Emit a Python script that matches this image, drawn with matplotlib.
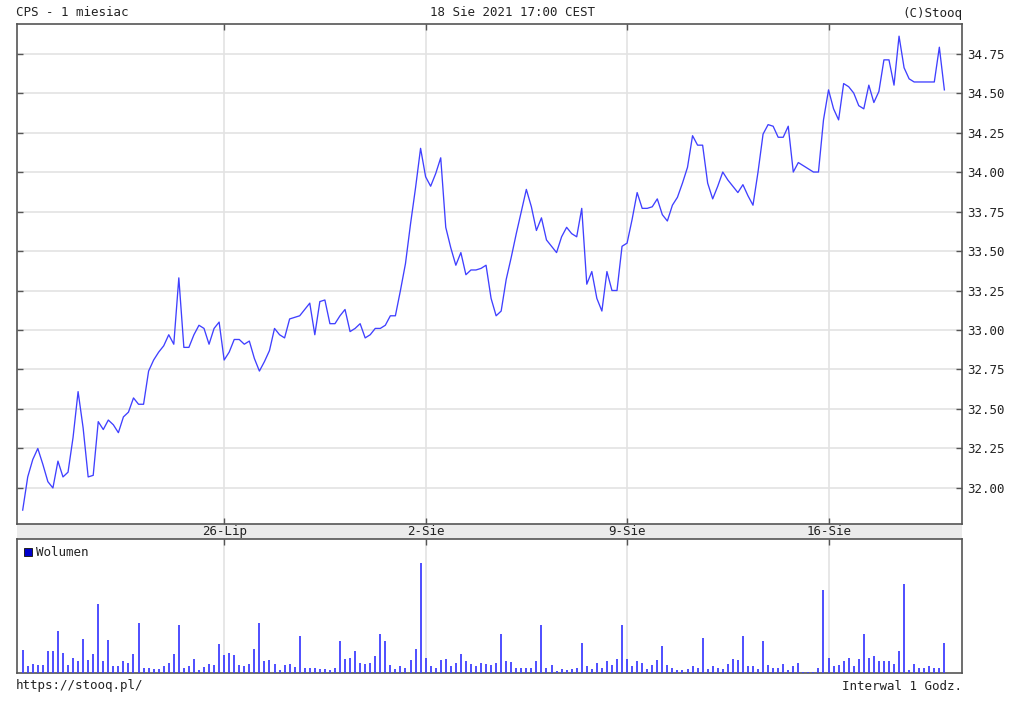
import matplotlib
matplotlib.use("Agg")
import matplotlib.pyplot as plt
from matplotlib.patches import Rectangle
from matplotlib.transforms import blended_transform_factory

# ---------------- data ----------------
title_left = "CPS - 1 miesiac"
title_center = "18 Sie 2021 17:00 CEST"
title_right = "(C)Stooq"
footer_left = "https://stooq.pl/"
footer_right = "Interwal 1 Godz."
legend_label = "Wolumen"

trading_days = ["19-Lip", "20-Lip", "21-Lip", "22-Lip", "23-Lip",
                "26-Lip", "27-Lip", "28-Lip", "29-Lip", "30-Lip",
                "2-Sie", "3-Sie", "4-Sie", "5-Sie", "6-Sie",
                "9-Sie", "10-Sie", "11-Sie", "12-Sie", "13-Sie",
                "16-Sie", "17-Sie", "18-Sie"]
bars_per_day = 8
tick_days = ["26-Lip", "2-Sie", "9-Sie", "16-Sie"]
price_ticks = [32.00, 32.25, 32.50, 32.75, 33.00, 33.25, 33.50, 33.75,
               34.00, 34.25, 34.50, 34.75]

price = [31.86, 32.07, 32.18, 32.25, 32.15, 32.04, 32.00, 32.17, 32.07, 32.10,
         32.32, 32.61, 32.38, 32.07, 32.08, 32.42, 32.37, 32.43, 32.40, 32.35,
         32.45, 32.48, 32.57, 32.53, 32.53, 32.74, 32.81, 32.86, 32.90, 32.97,
         32.91, 33.33, 32.89, 32.89, 32.97, 33.03, 33.01, 32.91, 33.01, 33.05,
         32.81, 32.86, 32.94, 32.94, 32.91, 32.93, 32.82, 32.74, 32.80, 32.87,
         33.01, 32.97, 32.95, 33.07, 33.08, 33.09, 33.13, 33.17, 32.97, 33.18,
         33.19, 33.04, 33.04, 33.09, 33.13, 32.99, 33.01, 33.04, 32.95, 32.97,
         33.01, 33.01, 33.03, 33.09, 33.09, 33.25, 33.42, 33.67, 33.90, 34.15,
         33.97, 33.91, 33.99, 34.09, 33.65, 33.52, 33.41, 33.49, 33.35, 33.38,
         33.38, 33.39, 33.41, 33.20, 33.09, 33.12, 33.32, 33.46, 33.61, 33.75,
         33.89, 33.78, 33.63, 33.71, 33.57, 33.53, 33.49, 33.59, 33.65, 33.61,
         33.59, 33.77, 33.29, 33.37, 33.20, 33.12, 33.37, 33.25, 33.25, 33.53,
         33.55, 33.70, 33.87, 33.77, 33.77, 33.78, 33.83, 33.73, 33.69, 33.79,
         33.84, 33.93, 34.03, 34.23, 34.17, 34.17, 33.93, 33.83, 33.91, 34.00,
         33.95, 33.91, 33.87, 33.92, 33.85, 33.79, 34.00, 34.24, 34.30, 34.29,
         34.22, 34.22, 34.29, 34.00, 34.06, 34.04, 34.02, 34.00, 34.00, 34.33,
         34.52, 34.40, 34.33, 34.56, 34.54, 34.50, 34.42, 34.40, 34.55, 34.44,
         34.51, 34.71, 34.71, 34.55, 34.86, 34.66, 34.59, 34.57, 34.57, 34.57,
         34.57, 34.57, 34.79, 34.52]

volume = [68, 20, 28, 25, 25, 65, 65, 125, 61, 25,
          46, 35, 103, 38, 58, 208, 35, 100, 20, 20,
          35, 31, 58, 151, 16, 16, 13, 13, 20, 31,
          58, 143, 16, 20, 43, 10, 18, 28, 25, 88,
          53, 61, 53, 23, 20, 28, 73, 151, 35, 38,
          28, 10, 25, 28, 18, 110, 16, 16, 16, 13,
          13, 10, 16, 95, 43, 46, 65, 31, 28, 31,
          50, 118, 95, 25, 13, 20, 16, 38, 73, 331,
          46, 20, 16, 38, 43, 20, 31, 58, 35, 28,
          20, 31, 28, 25, 31, 118, 35, 33, 16, 16,
          16, 16, 35, 143, 16, 23, 6, 13, 10, 13,
          16, 91, 20, 13, 31, 16, 35, 25, 43, 143,
          43, 20, 35, 31, 13, 25, 38, 80, 25, 16,
          10, 10, 13, 20, 16, 106, 13, 20, 16, 13,
          28, 43, 38, 110, 20, 20, 13, 95, 25, 16,
          16, 28, 8, 20, 31, 4, 4, 4, 16, 248,
          46, 20, 25, 35, 46, 20, 43, 118, 46, 50,
          35, 35, 35, 28, 65, 268, 10, 28, 16, 16,
          20, 16, 16, 91]

# ---------------- layout helpers ----------------
W, H = 1024, 707
def fx(px):
    return px / W
def fy(py):
    return 1 - py / H

plt.rcParams['font.family'] = ['DejaVu Sans Mono']
text_color = "#222222"
grid_color = "#e3e3e3"
spine_color = "#555555"
line_color = "#4040ff"
fs = 9

fig = plt.figure(figsize=(W / 100, H / 100), dpi=100)
fig.patch.set_facecolor("white")

L, R = 17, 962
P_TOP, P_BOT = 24, 524
V_TOP, V_BOT = 539, 673

# gray date band (drawn beneath the axes)
fig.patches.append(Rectangle((fx(L), fy(V_TOP)), fx(R) - fx(L), fy(P_BOT) - fy(V_TOP),
                             transform=fig.transFigure, facecolor="#ebebeb",
                             edgecolor="none", zorder=-1))

ax = fig.add_axes([fx(L), fy(P_BOT), fx(R) - fx(L), fy(P_TOP) - fy(P_BOT)])
axv = fig.add_axes([fx(L), fy(V_BOT), fx(R) - fx(L), fy(V_TOP) - fy(V_BOT)])

x = list(range(len(price)))
tick_pos = [trading_days.index(d) * bars_per_day for d in tick_days]
xlim = (-1.13, 186.5)

# ---- price panel ----
ax.plot(x, price, color=line_color, lw=0.95, zorder=3)
ax.set_xlim(*xlim)
ax.set_ylim(31.772, 34.937)
ax.set_yticks(price_ticks)
ax.set_yticklabels([f"{v:.2f}" for v in price_ticks])
ax.set_xticks(tick_pos)
ax.grid(True, color=grid_color, lw=1.2, zorder=0)
ax.set_axisbelow(True)
ax.tick_params(axis='y', which='both', left=True, right=True, labelleft=False,
               labelright=True, direction='in', length=4, width=1.0,
               color=spine_color, pad=3.4, labelsize=fs, labelcolor=text_color)
ax.tick_params(axis='x', which='both', top=True, bottom=True, labeltop=False,
               labelbottom=False, direction='in', length=4, width=1.0,
               color=spine_color)
for s in ax.spines.values():
    s.set_color(spine_color)
    s.set_linewidth(1.2)

# date labels in the band between the panels
band_tr = blended_transform_factory(ax.transData, fig.transFigure)
for pos, lab in zip(tick_pos, tick_days):
    ax.text(pos, fy(531.5), lab, transform=band_tr, ha='center', va='center',
            fontsize=fs, color=text_color, clip_on=False, zorder=10)

# ---- volume panel ----
axv.vlines(x, 0, volume, color=line_color, lw=1.3, zorder=3)
axv.set_xlim(*xlim)
axv.set_ylim(0, 402)
axv.set_xticks(tick_pos)
axv.set_yticks([])
axv.grid(True, axis='x', color=grid_color, lw=1.2, zorder=0)
axv.set_axisbelow(True)
axv.tick_params(axis='x', which='both', top=True, bottom=False, labeltop=False,
                labelbottom=False, direction='in', length=4, width=1.0,
                color=spine_color)
for s in axv.spines.values():
    s.set_color(spine_color)
    s.set_linewidth(1.2)

# legend marker
fig.patches.append(Rectangle((fx(24), fy(556)), fx(8), fy(548) - fy(556),
                             transform=fig.transFigure, facecolor="#0000cc",
                             edgecolor="#222222", lw=0.7, zorder=5))
fig.text(fx(36), fy(552), legend_label, ha='left', va='center',
         fontsize=fs, color=text_color)

# header / footer texts
fig.text(fx(16), fy(13), title_left, ha='left', va='center', fontsize=fs, color=text_color)
fig.text(0.5, fy(13), title_center, ha='center', va='center', fontsize=fs, color=text_color)
fig.text(fx(R), fy(13), title_right, ha='right', va='center', fontsize=fs, color=text_color)
fig.text(fx(16), fy(686), footer_left, ha='left', va='center', fontsize=fs, color=text_color)
fig.text(fx(R), fy(686), footer_right, ha='right', va='center', fontsize=fs, color=text_color)

fig.savefig("out.png", dpi=100)
